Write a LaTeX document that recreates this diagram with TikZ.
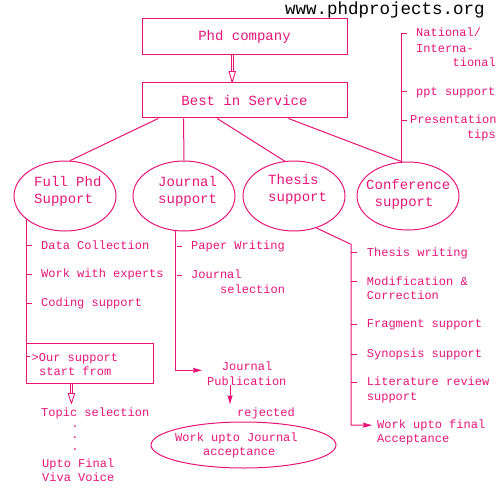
\documentclass[tikz,border=0pt]{standalone}
\usepackage{fontspec}
\setmonofont{Liberation Mono}
\usetikzlibrary{shapes.geometric,arrows.meta,calc}
\definecolor{pk}{RGB}{230,20,120}
\begin{document}
\begin{tikzpicture}[x=1pt,y=-1pt,
  ln/.style={draw=pk,line width=1pt},
  tt/.style={inner sep=0pt,text=pk,anchor=base west,font=\ttfamily\fontsize{12}{14}\selectfont},
  tl/.style={inner sep=0pt,text=pk,anchor=base west,font=\ttfamily\fontsize{14}{17}\selectfont},
  ell/.style={ellipse,draw=pk,line width=1pt,inner sep=0pt},
  rbox/.style={rectangle,draw=pk,line width=1pt,inner sep=0pt,text=pk,font=\ttfamily\fontsize{14}{17}\selectfont},
  arr/.style={ln,-{Stealth[length=9pt,width=5pt,inset=1pt]}},
]
\useasboundingbox (0,0) rectangle (500,500);

% header
\node[inner sep=0pt,anchor=base west,font=\ttfamily\fontsize{17.5}{20}\selectfont] (www) at (285,14.5) {www.phdprojects.org};

% boxes
\node[rbox,minimum width=205pt,minimum height=36pt] (phd) at (244.5,37) {Phd company};
\node[rbox,minimum width=205pt,minimum height=35pt] (best) at (244.5,100.5) {Best in Service};
\node[rbox,minimum width=126.5pt,minimum height=40pt] (ours) at (89.75,363) {};

% ellipses
\node[ell,minimum width=102pt,minimum height=70pt] (full) at (65,196) {};
\node[ell,minimum width=102pt,minimum height=70pt] (journal) at (184,196) {};
\node[ell,minimum width=102pt,minimum height=70pt] (thesis) at (294,196) {};
\node[ell,minimum width=102pt,minimum height=68pt] (conf) at (408,196) {};
\node[ell,minimum width=185pt,minimum height=46pt] (wuj) at (243.5,445) {};

% ellipse texts
\node[tl] (full1) at (34,186) {Full Phd};
\node[tl] (full2) at (34,203) {Support};
\node[tl] (jour1) at (158,186) {Journal};
\node[tl] (jour2) at (158,203) {support};
\node[tl] (thes1) at (268,184) {Thesis};
\node[tl] (thes2) at (268,201) {support};
\node[tl] (conf1) at (366,189) {Conference};
\node[tl] (conf2) at (374.5,206) {support};

% full phd list
\node[tt] (f1) at (41,249) {Data Collection};
\node[tt] (f2) at (41,277.3) {Work with experts};
\node[tt] (f3) at (41,306.3) {Coding support};
\node[tt] (o1) at (31.5,361) {>Our support};
\node[tt] (o2) at (39,375) {start from};
\node[tt] (top1) at (41,416) {Topic selection};
\node[inner sep=0pt,text=pk,anchor=base,font=\ttfamily\fontsize{12}{14}\selectfont] (d1) at (75,427) {.};
\node[inner sep=0pt,text=pk,anchor=base,font=\ttfamily\fontsize{12}{14}\selectfont] (d2) at (75,438.5) {.};
\node[inner sep=0pt,text=pk,anchor=base,font=\ttfamily\fontsize{12}{14}\selectfont] (d3) at (75,450) {.};
\node[tt] (up1) at (42,467) {Upto Final};
\node[tt] (up2) at (42,481.3) {Viva Voice};

% journal list
\node[tt] (j1) at (191,249.3) {Paper Writing};
\node[tt] (j2) at (191,278.3) {Journal};
\node[tt] (j3) at (220,293.3) {selection};
\node[tt] (pub1) at (221.7,370.3) {Journal};
\node[tt] (pub2) at (207,385.3) {Publication};
\node[tt] (rej) at (237,416.3) {rejected};
\node[tt] (wj1) at (175,441.3) {Work upto Journal};
\node[tt] (wj2) at (203,455.6) {acceptance};

% thesis list
\node[tt] (t1) at (366.7,256) {Thesis writing};
\node[tt] (t2) at (366.7,285) {Modification \&};
\node[tt] (t3) at (366.7,299) {Correction};
\node[tt] (t4) at (366.7,327.6) {Fragment support};
\node[tt] (t5) at (366.7,357.3) {Synopsis support};
\node[tt] (t6) at (366.7,385.6) {Literature review};
\node[tt] (t7) at (366.7,400) {support};
\node[tt] (wuf1) at (377,428.3) {Work upto final};
\node[tt] (wuf2) at (377,442.3) {Acceptance};

% conference list
\node[tt] (c1) at (416,36.6) {National/};
\node[tt] (c2) at (416,52.6) {Interna-};
\node[tt,anchor=base east] (c3) at (496,66.6) {tional};
\node[tt] (c4) at (416,95.3) {ppt support};
\node[tt] (c5) at (410,124) {Presentation};
\node[tt,anchor=base east] (c6) at (496,139) {tips};

% double arrow phd -> best
\draw[ln,line width=0.9pt] ([xshift=-13.5pt]phd.south) -- ([xshift=-13.5pt,yshift=11pt]best.north);
\draw[ln,line width=0.9pt] ([xshift=-11.1pt]phd.south) -- ([xshift=-11.1pt,yshift=11pt]best.north);
\draw[ln,line width=0.9pt,fill=white,line join=round] ([xshift=-12.3pt]best.north) -- ++(-3.2,-11) -- ++(6.4,0) -- cycle;

% best -> ellipses
\draw[ln] ([xshift=16.7pt]best.south west) -- (full.82);
\draw[ln] ([xshift=42pt]best.south west) -- (journal.north);
\draw[ln] ([xshift=75.7pt]best.south west) -- (thesis.105);
\draw[ln] ([xshift=147pt]best.south west) -- (conf.100);

% conference bracket
\coordinate (ctop) at (406.7,33.3);
\draw[ln] (conf.100) |- (ctop);
\draw[ln] (402.3,92) -- (407,92);
\draw[ln] (402.3,120.7) -- (406.7,120.7);

% full phd bracket
\draw[ln] (full.211) -- (full.211 |- ours.south);
\draw[ln] (26.5,245.7) -- (32.3,245.7);
\draw[ln] (26.5,274) -- (32.3,274);
\draw[ln] (26.5,303) -- (32.3,303);
\draw[ln] (26.5,356.7) -- (29.8,356.7);

% double arrow ours -> topic
\draw[ln,line width=0.9pt] ([xshift=-19.5pt]ours.south) -- ++(0,11);
\draw[ln,line width=0.9pt] ([xshift=-17.1pt]ours.south) -- ++(0,11);
\draw[ln,line width=0.9pt,fill=white,line join=round] ($(ours.south)+(-18.3,20)$) -- ++(-3.2,-10) -- ++(6.4,0) -- cycle;

% journal bracket
\draw[arr] (journal.257) |- ($(pub2.west |- pub1.base)+(-5,0)$);
\draw[ln] (176.5,246) -- (182,246);
\draw[ln] (176.5,275) -- (182,275);
\coordinate (rejtip) at (230,404.3);
\draw[arr] ($(pub2.base west)+(23,0)$) -- (rejtip);

% thesis bracket
\coordinate (tbend) at (351,244.3);
\draw[arr] (thesis.305) -- (tbend) |- ($(wuf1.west)+(-5,0)$);
\foreach \yy in {252.7,281.7,324.3,354,382.3}
  \draw[ln] (351,\yy) -- (356.5,\yy);
\end{tikzpicture}
\end{document}
